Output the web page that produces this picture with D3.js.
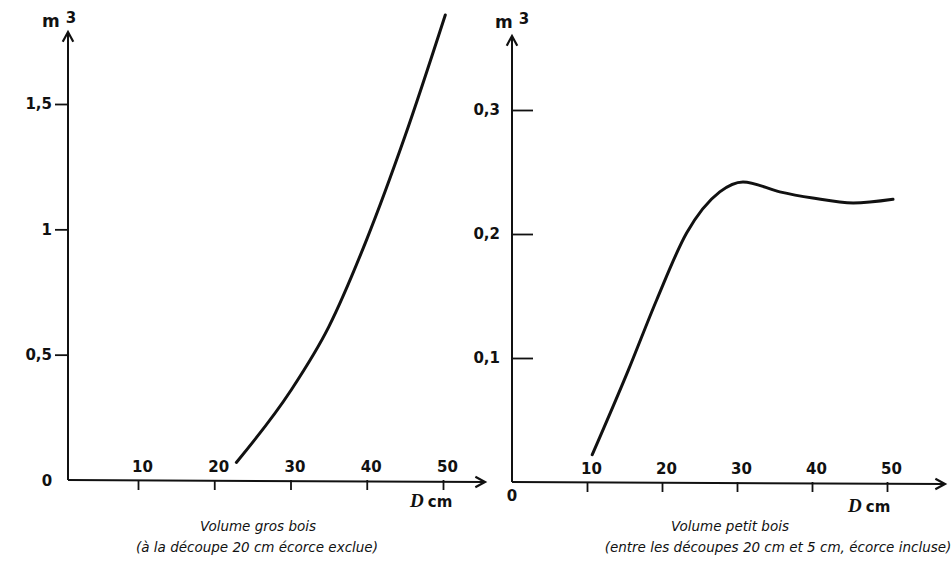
<!DOCTYPE html>
<html>
<head>
<meta charset="utf-8">
<script src="https://cdn.jsdelivr.net/npm/d3@7"></script>
<style>
  body { margin: 0; background: #fff; }
  svg { display: block; }
  .tick text { font-family: "DejaVu Sans", sans-serif; font-size: 15px; font-weight: bold; fill: #111; }
  .cap { font-family: "DejaVu Sans", sans-serif; font-style: italic; font-size: 13.5px; fill: #111; }
  .unit { font-family: "DejaVu Sans", sans-serif; font-size: 15px; font-weight: bold; fill: #111; }
</style>
</head>
<body>
<div id="chart"></div>
<script>
// gros bois (m3) vs diamètre (cm)
const grosD = [22.9, 30, 35, 40, 45, 50.3]
const grosV = [0.07, 0.355, 0.61, 0.96, 1.37, 1.855]
// petit bois (m3) vs diamètre (cm)
const petitD = [10.7, 15.5, 19.3, 23.3, 27.7, 30.8, 35.7, 40.1, 45.5, 50.8]
const petitV = [0.022, 0.090, 0.147, 0.201, 0.234, 0.242, 0.234, 0.229, 0.225, 0.228]

const xTicks = [10, 20, 30, 40, 50]
const grosTicks = [0.5, 1, 1.5]
const petitTicks = [0.1, 0.2, 0.3]

const width = 952, height = 574
const fmt = d => String(d).replace(".", ",")

let svg = d3.select("#chart").append("svg")
    .attr("width", width)
    .attr("height", height)

function arrow(g, x1, y1, x2, y2) {
    g.append("line")
        .attr("x1", x1).attr("y1", y1).attr("x2", x2).attr("y2", y2)
        .attr("stroke", "#111").attr("stroke-width", 2)
    let a = Math.atan2(y2 - y1, x2 - x1)
    let L = 11, w = 0.5
    g.append("path")
        .attr("d", `M${x2 - L * Math.cos(a - w)},${y2 - L * Math.sin(a - w)} L${x2},${y2} L${x2 - L * Math.cos(a + w)},${y2 - L * Math.sin(a + w)}`)
        .attr("fill", "none").attr("stroke", "#111").attr("stroke-width", 2.2)
}

function panel(cfg) {
    let g = svg.append("g")
    let x = d3.scaleLinear().domain([10, 50]).range(cfg.xr)
    let y = d3.scaleLinear().domain(cfg.yd).range(cfg.yr)

    // axis lines with arrows
    arrow(g, cfg.ox, cfg.oy, cfg.xEnd, cfg.oy + 2)
    arrow(g, cfg.ox, cfg.oy, cfg.ox, cfg.yEnd)

    // x ticks below the axis, labels above
    let xa = g.append("g")
        .attr("transform", `translate(0,${cfg.oy})`)
        .call(d3.axisBottom(x).tickValues(xTicks).tickSize(10).tickFormat(d3.format("d")))
    xa.select(".domain").remove()
    xa.selectAll(".tick line").attr("stroke", "#111").attr("stroke-width", 1.8)
    xa.selectAll(".tick text").attr("y", -8).attr("dy", 0).attr("dx", 4)

    // y ticks
    let ya = g.append("g")
        .attr("transform", `translate(${cfg.ox},0)`)
        .call(d3.axisLeft(y).tickValues(cfg.yTicks).tickSizeInner(cfg.yTick).tickSizeOuter(0)
            .tickPadding(cfg.yPad).tickFormat(fmt))
    ya.select(".domain").remove()
    ya.selectAll(".tick line").attr("stroke", "#111").attr("stroke-width", 1.8)

    // origin "0"
    g.append("text").attr("class", "unit")
        .attr("x", cfg.zero[0]).attr("y", cfg.zero[1]).attr("text-anchor", "middle").text("0")

    // unit labels
    let m = g.append("text").attr("class", "unit").attr("x", cfg.m3[0]).attr("y", cfg.m3[1])
    m.append("tspan").style("font-size", "17px").text("m ")
    m.append("tspan").attr("dy", -4).text("3")
    let dc = g.append("text").attr("class", "unit").attr("x", cfg.dcm[0]).attr("y", cfg.dcm[1])
    dc.append("tspan").style("font-family", "Liberation Serif, serif").style("font-style", "italic")
        .style("font-size", "19px").text("D")
    dc.append("tspan").attr("dx", 4).text("cm")

    // curve
    let line = d3.line()
        .x(d => x(d[0])).y(d => y(d[1]))
        .curve(d3.curveMonotoneX)
    g.append("path")
        .datum(cfg.D.map((d, i) => [d, cfg.V[i]]))
        .attr("d", line)
        .attr("fill", "none").attr("stroke", "#111").attr("stroke-width", 3)
        .attr("stroke-linecap", "round")

    // captions
    cfg.caps.forEach((c, i) => {
        g.append("text").attr("class", "cap")
            .attr("x", cfg.capX[i]).attr("y", 531 + i * 21)
            .attr("text-anchor", "middle").text(c)
    })
}

panel({
    xr: [138, 443], yd: [0, 1.5], yr: [480, 104],
    ox: 68, oy: 480, xEnd: 485, yEnd: 32,
    yTicks: grosTicks, yTick: 13, yPad: 3,
    zero: [47, 486], m3: [42, 27], dcm: [410, 507],
    D: grosD, V: grosV,
    caps: ["Volume gros bois", "(à la découpe 20 cm écorce exclue)"], capX: [258, 257]
})

panel({
    xr: [587, 887], yd: [0, 0.3], yr: [482, 110],
    ox: 512, oy: 482, xEnd: 945, yEnd: 36,
    yTicks: petitTicks, yTick: -21, yPad: 12,
    zero: [512, 501], m3: [495, 28], dcm: [848, 512],
    D: petitD, V: petitV,
    caps: ["Volume petit bois", "(entre les découpes 20 cm et 5 cm, écorce incluse)"], capX: [730, 778]
})
</script>
</body>
</html>
